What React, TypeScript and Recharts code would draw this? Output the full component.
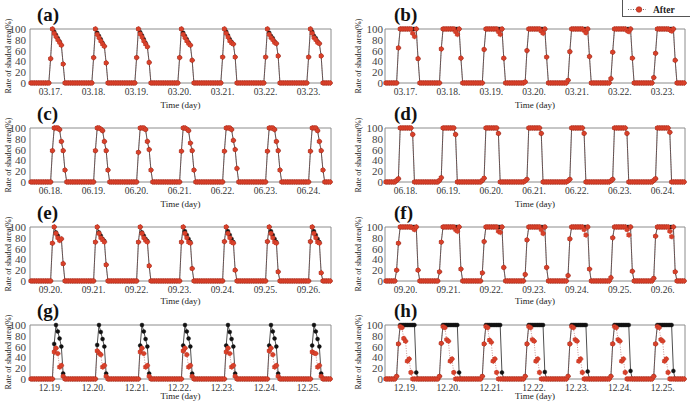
import React from 'react';
import { LineChart, Line, XAxis, YAxis, ReferenceArea } from 'recharts';

// ---------- categories / tick labels ----------
const marDates = ['03.17.', '03.18.', '03.19.', '03.20.', '03.21.', '03.22.', '03.23.'];
const junDates = ['06.18.', '06.19.', '06.20.', '06.21.', '06.22.', '06.23.', '06.24.'];
const sepDates = ['09.20.', '09.21.', '09.22.', '09.23.', '09.24.', '09.25.', '09.26.'];
const decDates = ['12.19.', '12.20.', '12.21.', '12.22.', '12.23.', '12.24.', '12.25.'];
const yTicks = [0, 20, 40, 60, 80, 100];
const HOURS_PER_DAY = 24;
const DAYS = 7;
const LABEL_HOUR = 11;

// ---------- values (daytime hourly values, night = 0) ----------
// (a) March, start hour 11
const aStart = 11;
const aAfter = [
  [45, 100, 92, 86, 80, 75, 70, 35],
  [47, 100, 90, 84, 78, 72, 68, 37],
  [47, 100, 91, 85, 78, 72, 67, 38],
  [47, 100, 90, 84, 78, 73, 70, 42],
  [48, 100, 92, 85, 78, 74, 72, 48],
  [48, 100, 90, 84, 80, 75, 73, 50],
  [48, 100, 92, 84, 80, 75, 73, 50],
];
const aBefore = [
  [45, 100, 95, 89, 83, 77, 70, 35],
  [47, 100, 93, 87, 81, 74, 68, 37],
  [47, 100, 94, 88, 81, 74, 67, 38],
  [47, 100, 93, 87, 81, 75, 70, 42],
  [48, 100, 95, 88, 81, 76, 72, 48],
  [48, 100, 93, 87, 83, 77, 73, 50],
  [48, 100, 95, 87, 83, 77, 73, 50],
];
// (b) March, start hour 6
const bStart = 6;
const bAfter = [
  [0, 65, 100, 100, 100, 100, 100, 100, 100, 92, 86, 100, 45],
  [0, 63, 100, 100, 100, 100, 100, 100, 100, 95, 90, 100, 46],
  [0, 62, 100, 100, 100, 100, 100, 100, 100, 95, 90, 100, 46],
  [2, 60, 100, 100, 100, 100, 100, 100, 100, 96, 92, 100, 48],
  [5, 58, 100, 100, 100, 100, 100, 100, 100, 97, 93, 100, 49],
  [8, 57, 100, 100, 100, 100, 100, 100, 100, 97, 95, 100, 46],
  [10, 55, 100, 100, 100, 100, 100, 100, 100, 98, 96, 100, 42],
];
const bBefore = [
  [0, 65, 100, 100, 100, 100, 100, 100, 100, 100, 100, 100, 45],
  [0, 63, 100, 100, 100, 100, 100, 100, 100, 100, 100, 100, 46],
  [0, 62, 100, 100, 100, 100, 100, 100, 100, 100, 100, 100, 46],
  [2, 60, 100, 100, 100, 100, 100, 100, 100, 100, 100, 100, 48],
  [5, 58, 100, 100, 100, 100, 100, 100, 100, 100, 100, 100, 49],
  [8, 57, 100, 100, 100, 100, 100, 100, 100, 100, 100, 100, 46],
  [10, 55, 100, 100, 100, 100, 100, 100, 100, 100, 100, 100, 42],
];
// (c) June, start hour 12
const cStart = 12;
const cAfter = [
  [58, 100, 100, 100, 97, 75, 58, 22],
  [58, 100, 100, 98, 95, 75, 58, 22],
  [55, 100, 100, 100, 97, 75, 60, 22],
  [57, 100, 100, 98, 95, 72, 58, 22],
  [57, 100, 100, 100, 97, 77, 60, 25],
  [57, 100, 100, 100, 97, 75, 58, 22],
  [57, 100, 100, 100, 95, 75, 58, 22],
];
const cBefore = cAfter;
// (d) June, start hour 6
const dStart = 6;
const dAfter = [
  [3, 6, 100, 100, 100, 100, 100, 100, 100, 88],
  [3, 8, 100, 100, 100, 100, 100, 100, 100, 88],
  [3, 7, 100, 100, 100, 100, 100, 100, 100, 90],
  [2, 5, 100, 100, 100, 100, 100, 100, 100, 90],
  [2, 5, 100, 100, 100, 100, 100, 100, 100, 90],
  [2, 5, 100, 100, 100, 100, 100, 100, 100, 90],
  [3, 6, 100, 100, 100, 100, 100, 100, 100, 92],
];
const dBefore = dAfter;
// (e) September, start hour 12
const eStart = 12;
const eAfter = [
  [70, 100, 88, 80, 75, 78, 32],
  [72, 100, 88, 80, 76, 72, 30],
  [72, 100, 88, 80, 75, 72, 28],
  [72, 100, 88, 80, 72, 70, 23],
  [73, 100, 88, 80, 72, 70, 20],
  [73, 100, 88, 80, 72, 70, 17],
  [73, 100, 88, 80, 72, 70, 15],
];
const eBefore = [
  [70, 100, 90, 84, 78, 78, 32],
  [72, 100, 90, 84, 78, 74, 30],
  [72, 100, 90, 84, 78, 74, 28],
  [72, 100, 92, 85, 78, 72, 23],
  [73, 100, 92, 85, 78, 72, 20],
  [73, 100, 92, 85, 78, 72, 17],
  [73, 100, 92, 85, 78, 72, 15],
];
// (f) September, start hour 6
const fStart = 6;
const fAfter = [
  [20, 70, 100, 100, 100, 100, 100, 100, 100, 98, 95, 100, 20],
  [17, 72, 100, 100, 100, 100, 100, 100, 100, 95, 92, 100, 22],
  [15, 73, 100, 100, 100, 100, 100, 100, 100, 92, 90, 100, 25],
  [12, 76, 100, 100, 100, 100, 100, 100, 100, 95, 88, 100, 25],
  [10, 78, 100, 100, 100, 100, 100, 100, 100, 95, 85, 100, 22],
  [6, 80, 100, 100, 100, 100, 100, 100, 100, 95, 85, 100, 18],
  [5, 83, 100, 100, 100, 100, 100, 100, 100, 92, 82, 100, 17],
];
const fBefore = [
  [20, 70, 100, 100, 100, 100, 100, 100, 100, 100, 100, 100, 20],
  [17, 72, 100, 100, 100, 100, 100, 100, 100, 100, 100, 100, 22],
  [15, 73, 100, 100, 100, 100, 100, 100, 100, 100, 100, 100, 25],
  [12, 76, 100, 100, 100, 100, 100, 100, 100, 100, 100, 100, 25],
  [10, 78, 100, 100, 100, 100, 100, 100, 100, 100, 100, 100, 22],
  [6, 80, 100, 100, 100, 100, 100, 100, 100, 100, 100, 100, 18],
  [5, 83, 100, 100, 100, 100, 100, 100, 100, 100, 100, 100, 17],
];
// (g) December, start hour 13
const gStart = 13;
const gAfter = [
  [50, 57, 47, 22, 25, 5],
  [52, 48, 45, 22, 25, 5],
  [50, 57, 47, 22, 25, 5],
  [52, 57, 45, 22, 25, 5],
  [50, 57, 47, 22, 25, 5],
  [52, 57, 45, 22, 25, 5],
  [50, 48, 47, 22, 25, 5],
];
const gBefore = [
  [65, 100, 88, 75, 60, 10],
  [63, 100, 87, 74, 60, 10],
  [62, 100, 88, 74, 60, 10],
  [62, 100, 88, 75, 60, 10],
  [62, 100, 87, 74, 60, 10],
  [62, 100, 88, 75, 60, 10],
  [62, 100, 88, 74, 60, 10],
];
// (h) December, start hour 6
const hStart = 6;
const hAfter = [
  [5, 65, 97, 95, 75, 70, 33, 37, 12, 0, 0, 0],
  [5, 66, 97, 95, 73, 70, 33, 37, 12, 0, 0, 0],
  [5, 65, 97, 95, 72, 68, 33, 37, 12, 0, 0, 0],
  [5, 65, 97, 95, 73, 70, 33, 37, 12, 0, 0, 0],
  [5, 65, 97, 95, 73, 70, 33, 37, 12, 0, 0, 0],
  [5, 65, 97, 95, 73, 70, 33, 37, 12, 0, 0, 0],
  [5, 65, 97, 95, 73, 70, 33, 37, 12, 0, 0, 0],
];
const hBefore = [
  [5, 65, 100, 100, 100, 100, 100, 100, 100, 100, 100, 12],
  [5, 66, 100, 100, 100, 100, 100, 100, 100, 100, 100, 12],
  [5, 65, 100, 100, 100, 100, 100, 100, 100, 100, 100, 12],
  [5, 65, 100, 100, 100, 100, 100, 100, 100, 100, 100, 13],
  [5, 65, 100, 100, 100, 100, 100, 100, 100, 100, 100, 14],
  [5, 65, 100, 100, 100, 100, 100, 100, 100, 100, 100, 15],
  [5, 65, 100, 100, 100, 100, 100, 100, 100, 100, 100, 15],
];

// ---------- build table ----------
type Row = { i: number; before: number; after: number };
function buildRows(start: number, before: number[][], after: number[][]): Row[] {
  const rows: Row[] = [];
  for (let d = 0; d < DAYS; d++) {
    for (let h = 0; h < HOURS_PER_DAY; h++) {
      const k = h - start;
      const b = k >= 0 && k < before[d].length ? before[d][k] : 0;
      const a = k >= 0 && k < after[d].length ? after[d][k] : 0;
      rows.push({ i: d * HOURS_PER_DAY + h, before: b, after: a });
    }
  }
  return rows;
}

type PanelCfg = {
  letter: string;
  col: number;
  row: number;
  dates: string[];
  rows: Row[];
};

const panels: PanelCfg[] = [
  { letter: '(a)', col: 0, row: 0, dates: marDates, rows: buildRows(aStart, aBefore, aAfter) },
  { letter: '(b)', col: 1, row: 0, dates: marDates, rows: buildRows(bStart, bBefore, bAfter) },
  { letter: '(c)', col: 0, row: 1, dates: junDates, rows: buildRows(cStart, cBefore, cAfter) },
  { letter: '(d)', col: 1, row: 1, dates: junDates, rows: buildRows(dStart, dBefore, dAfter) },
  { letter: '(e)', col: 0, row: 2, dates: sepDates, rows: buildRows(eStart, eBefore, eAfter) },
  { letter: '(f)', col: 1, row: 2, dates: sepDates, rows: buildRows(fStart, fBefore, fAfter) },
  { letter: '(g)', col: 0, row: 3, dates: decDates, rows: buildRows(gStart, gBefore, gAfter) },
  { letter: '(h)', col: 1, row: 3, dates: decDates, rows: buildRows(hStart, hBefore, hAfter) },
];

// ---------- layout ----------
const ROW_TOPS = [28.5, 128, 226.5, 324.5];
const TIME_LABEL_OFFSETS = [22.5, 21.5, 20.5, 17.5];
const PLOT_H = 54;
const MT = 8;
const XH = 16;
const MB = 2;
const CHART_H = MT + PLOT_H + XH + MB;
const YW = 22;
const COLS = [
  { chartLeft: 0, plotLeft: 30, plotW: 301, tickMargin: 4, titleX: 8, letterX: 37 },
  { chartLeft: 345, plotLeft: 385, plotW: 300, tickMargin: 2, titleX: 358, letterX: 394 },
];
const FONT = '"Liberation Serif", "DejaVu Serif", serif';
const tickPositions = marDates.map((_, d) => d * HOURS_PER_DAY + LABEL_HOUR);

function Panel({ p }: { p: PanelCfg }) {
  const c = COLS[p.col];
  const plotTop = ROW_TOPS[p.row];
  const margin = {
    top: MT,
    bottom: MB,
    left: c.plotLeft - c.chartLeft - YW,
    right: 345 - (c.plotLeft - c.chartLeft) - c.plotW,
  };
  return (
    <>
      <div style={{ position: 'absolute', left: c.chartLeft, top: plotTop - MT }}>
        <LineChart width={345} height={CHART_H} data={p.rows} margin={margin}>
          <XAxis
            type="number"
            dataKey="i"
            domain={[-0.5, DAYS * HOURS_PER_DAY - 0.5]}
            ticks={tickPositions}
            interval={0}
            tickFormatter={(v: number) => p.dates[Math.floor(v / HOURS_PER_DAY)]}
            axisLine={false}
            tickLine={false}
            tickSize={0}
            tickMargin={5}
            height={XH}
            tick={{ fontSize: 9.5, fill: '#333', fontFamily: FONT }}
          />
          <YAxis
            type="number"
            domain={[0, 100]}
            ticks={yTicks}
            interval={0}
            width={YW}
            axisLine={false}
            tickLine={false}
            tickSize={0}
            tickMargin={c.tickMargin}
            tick={{ fontSize: 11, fill: '#444', fontFamily: FONT }}
          />
          <ReferenceArea
            x1={-0.5}
            x2={DAYS * HOURS_PER_DAY - 0.5}
            y1={0}
            y2={100}
            fill="none"
            fillOpacity={0}
            stroke="#8c8c8c"
            strokeWidth={1}
          />
          <Line
            type="linear"
            dataKey="before"
            stroke="#3a3a3a"
            strokeWidth={0.9}
            dot={{ r: 2, fill: '#111', stroke: '#111', strokeWidth: 0.4 }}
            isAnimationActive={false}
          />
          <Line
            type="linear"
            dataKey="after"
            stroke="#a66"
            strokeWidth={0.7}
            strokeDasharray="1 1.5"
            dot={{ r: 2.4, fill: '#d8412a', stroke: '#a8261a', strokeWidth: 0.6 }}
            isAnimationActive={false}
          />
        </LineChart>
      </div>
      <div
        style={{
          position: 'absolute',
          left: c.letterX,
          top: plotTop - 25,
          fontFamily: FONT,
          fontWeight: 'bold',
          fontSize: 19,
          lineHeight: '22px',
          color: '#111',
        }}
      >
        {p.letter}
      </div>
      <div
        style={{
          position: 'absolute',
          left: c.titleX,
          top: plotTop + PLOT_H / 2,
          transform: 'translate(-50%, -50%) rotate(-90deg)',
          whiteSpace: 'nowrap',
          fontFamily: FONT,
          fontSize: 8,
          color: '#222',
        }}
      >
        Rate of shaded area(%)
      </div>
      <div
        style={{
          position: 'absolute',
          left: c.plotLeft + c.plotW / 2,
          top: plotTop + PLOT_H + TIME_LABEL_OFFSETS[p.row],
          transform: 'translate(-50%, -50%)',
          whiteSpace: 'nowrap',
          fontFamily: FONT,
          fontSize: 9,
          lineHeight: '10px',
          color: '#222',
        }}
      >
        Time (day)
      </div>
    </>
  );
}

function Legend() {
  return (
    <div
      style={{
        position: 'absolute',
        left: 622,
        top: -16,
        width: 67,
        height: 31,
        border: '1px solid #555',
        background: '#fff',
      }}
    >
      <svg width={67} height={31} style={{ position: 'absolute', left: 0, top: 0 }}>
        <line x1={5} y1={24.5} x2={23} y2={24.5} stroke="#444" strokeWidth={0.8} strokeDasharray="1 1.5" />
        <circle cx={16} cy={24.5} r={2.8} fill="#d8412a" stroke="#a8261a" strokeWidth={0.6} />
        <text x={30} y={28} fontFamily={FONT} fontWeight="bold" fontSize={9.5} fill="#222">After</text>
      </svg>
    </div>
  );
}

export default function App() {
  return (
    <div
      style={{
        position: 'fixed',
        left: 0,
        top: 0,
        width: 690,
        height: 403,
        overflow: 'hidden',
        background: '#fff',
      }}
    >
      {panels.map((p) => (
        <Panel key={p.letter} p={p} />
      ))}
      <Legend />
    </div>
  );
}
